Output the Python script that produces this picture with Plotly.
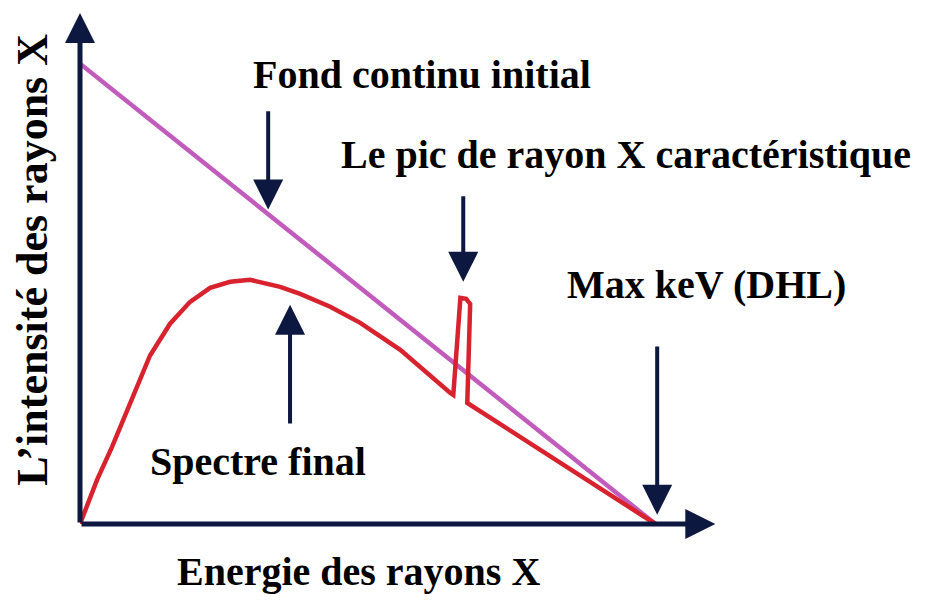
import plotly.graph_objects as go

# Data (energy 0-100, intensity 0-100)
bg_x = [0, 100]
bg_y = [100, 0]

spec_x = [0, 2.96, 5.57, 7.83, 9.91, 12.17, 15.65, 19.13, 22.61, 26.09, 29.57, 34.78, 38.26, 43.48,
          48.70, 55.65, 64.35, 64.87, 66.1, 67.1, 67.8, 67.3, 100]
spec_y = [0, 9.57, 16.74, 23.7, 30.0, 36.6, 43.5, 48.26, 51.30, 52.61, 53.04, 51.52, 50.0, 47.2,
          43.7, 37.83, 28.48, 28.04, 49.1, 48.9, 47.8, 26.3, 0]

labels = ["Fond continu initial", "Le pic de rayon X caractéristique", "Max keV (DHL)", "Spectre final"]
x_title = "Energie des rayons X"
y_title = "L’intensité des rayons X"

NAVY = "#0d1840"
FONT = "Liberation Serif"

fig = go.Figure()
fig.add_trace(go.Scatter(x=bg_x, y=bg_y, mode="lines",
                         line=dict(color="#c25cbc", width=4.5), hoverinfo="skip"))
fig.add_trace(go.Scatter(x=spec_x, y=spec_y, mode="lines",
                         line=dict(color="#d8232f", width=4.5, shape="linear"),
                         hoverinfo="skip"))

def arrow(x0, y0, x1, y1, w=4):
    fig.add_annotation(x=x1, y=y1, ax=x0, ay=y0, xref="x", yref="y", axref="x", ayref="y",
                       showarrow=True, arrowhead=2, arrowsize=1.5 * 4 / w, arrowwidth=w,
                       arrowcolor=NAVY, text="", standoff=0, startstandoff=0)

# axes
arrow(0, 0, 0, 111, 5)
arrow(0, 0, 110.4, 0, 5)
# pointers
arrow(32.7, 90, 32.7, 68.3)
arrow(66.6, 71.5, 66.6, 52.6)
arrow(36.5, 21.5, 36.5, 47.6)
arrow(100.3, 38.9, 100.3, 2)

def text(x, y, s, ref="x", angle=0, size=40, yanchor="middle"):
    fig.add_annotation(x=x, y=y, xref=ref if ref == "x" else "paper", yref="y" if ref == "x" else "paper",
                       text="<b>" + s + "</b>", showarrow=False, borderpad=0,
                       textangle=angle, font=dict(family=FONT, size=size, color="black"),
                       xanchor="center", yanchor=yanchor)

text(59.5, 97.6, labels[0])
text(94.8, 80.2, labels[1])
text(108.9, 52, labels[2])
text(31, 13.5, labels[3])
text(0.44, -0.139, x_title, ref="paper", size=40, yanchor="bottom")
text(-0.0742, 0.517, y_title, ref="paper", angle=-90, size=44)

fig.update_layout(
    width=915, height=587,
    margin=dict(l=72, r=210, t=5, b=71),
    paper_bgcolor="white", plot_bgcolor="white",
    showlegend=False,
    xaxis=dict(range=[0, 110], visible=False, fixedrange=True),
    yaxis=dict(range=[0, 111], visible=False, fixedrange=True),
)

fig.write_html("out.html")
